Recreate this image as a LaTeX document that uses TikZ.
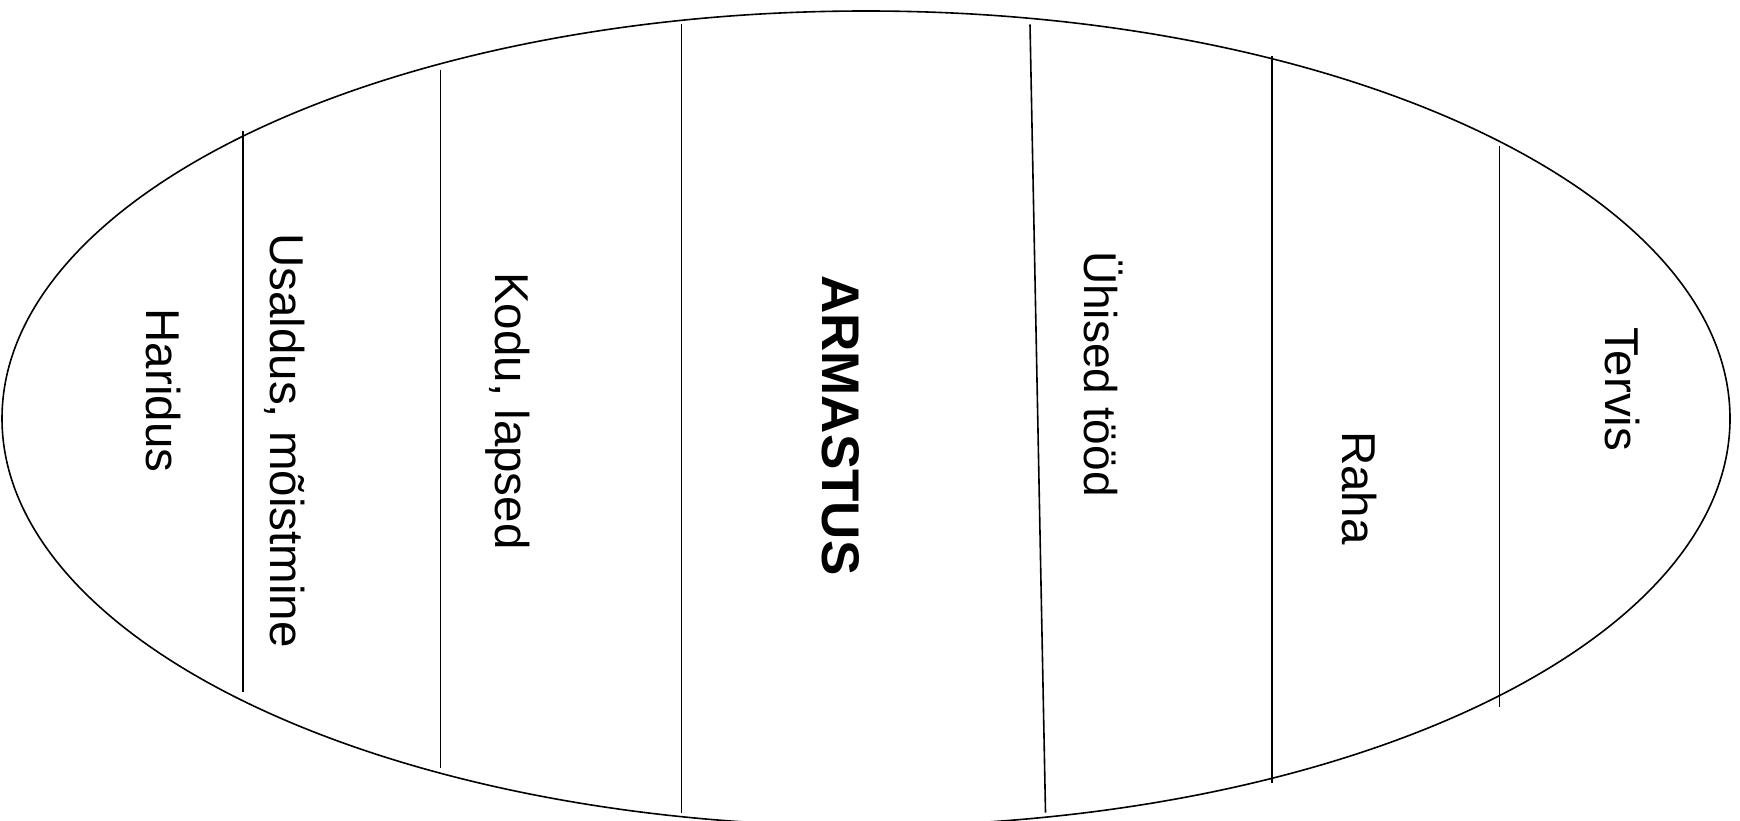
\documentclass[tikz,border=0pt]{standalone}
\usepackage{fontspec}
\setmainfont{Liberation Sans}
\begin{document}
\begin{tikzpicture}[x=1pt,y=-1pt,
  sep/.style={line width=1.6pt},
  lbl/.style={rotate=-90,anchor=base west,inner sep=0pt,font=\fontsize{47.5}{57}\selectfont},
  big/.style={rotate=-90,anchor=base west,inner sep=0pt,font=\fontsize{53}{63}\selectfont\bfseries}]
\useasboundingbox (0,0) rectangle (1740,821);
\clip (0,0) rectangle (1740,821);
\draw[line width=1.6pt] (866,418.5) ellipse [x radius=864, y radius=407.5];
% separators
\draw[sep] (243,131) -- (243,692);
\draw[sep] (440.5,70) -- (440.5,768);
\draw[sep] (681.5,24.5) -- (681.5,812.7);
\draw[sep] (1030,24.5) -- (1045.5,812.7);
\draw[sep] (1272,56) -- (1272,783);
\draw[sep] (1499.5,146.5) -- (1499.5,707);
% labels
\node[lbl] (haridus) at (146,308.5) {Haridus};
\node[lbl] (usaldus) at (270,233) {Usaldus, mõistmine};
\node[lbl] (kodu) at (495,272) {Kodu, lapsed};
\node[big] (armastus) at (822,275) {ARMASTUS};
\node[lbl,font=\fontsize{46}{55}\selectfont] (uhised) at (1084,251) {Ühised tööd};
\node[lbl] (raha) at (1342,431) {Raha};
\node[lbl] (tervis) at (1605,327) {Tervis};
\end{tikzpicture}
\end{document}
